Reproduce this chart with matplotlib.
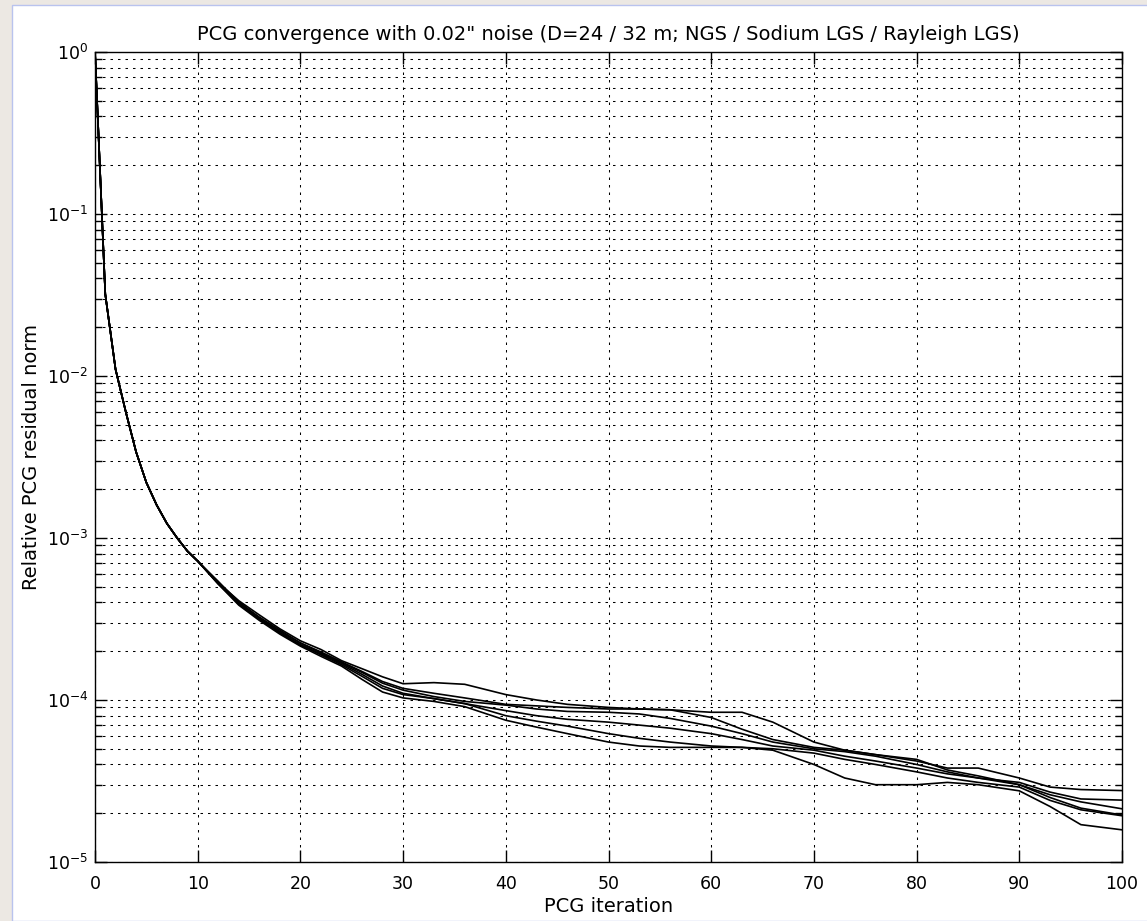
import matplotlib
matplotlib.use("Agg")
import matplotlib.pyplot as plt
from matplotlib.patches import Rectangle
from matplotlib.ticker import LogLocator, FixedLocator, LogFormatterMathtext, NullFormatter

plt.rcParams['font.family'] = ['DejaVu Sans']
plt.rcParams['mathtext.fontset'] = 'dejavusans'

# ---------------- data ----------------
title = 'PCG convergence with 0.02" noise (D=24 / 32 m; NGS / Sodium LGS / Rayleigh LGS)'
xlabel = 'PCG iteration'
ylabel = 'Relative PCG residual norm'

iterations = [0, 1, 2, 3, 4, 5, 6, 7, 8, 9, 10, 12, 14, 16, 18, 20, 22, 24, 26, 28,
              30, 33, 36, 40, 43, 46, 50, 53, 56, 60, 63, 66, 70, 73, 76, 80, 83, 86, 90, 93, 96, 100]

# shared start (iterations 0..10)
head = [1.0, 0.032, 0.011, 6.0e-3, 3.4e-3, 2.2e-3, 1.6e-3, 1.23e-3, 1.0e-3, 8.3e-4, 7.2e-4]

# tails from iteration 12 on, in units of 1e-5
case1 = [53, 41, 33.5, 27.5, 23.2, 20.5, 17.5, 15.6, 13.9,
         12.6, 12.8, 12.5, 10.8, 10.0, 9.4, 9.0, 8.8, 8.7, 8.4, 8.4, 7.3, 5.5, 4.9, 4.6, 4.2, 3.8, 3.8, 3.3, 2.9, 2.8, 2.76]
case2 = [54, 40, 32.5, 27.0, 22.5, 19.8, 17.2, 15.0, 13.0,
         11.8, 11.0, 10.3, 9.4, 9.2, 9.0, 8.8, 8.8, 8.7, 7.8, 6.6, 5.7, 5.1, 4.9, 4.6, 4.3, 3.7, 3.4, 3.0, 2.6, 2.35, 2.13]
case3 = [52, 39.5, 32.0, 26.5, 22.5, 19.5, 17.0, 14.8, 12.7,
         11.5, 10.5, 9.8, 9.3, 8.8, 8.5, 8.4, 8.2, 7.7, 6.9, 6.2, 5.5, 5.0, 4.8, 4.5, 4.0, 3.6, 3.3, 3.1, 2.7, 2.45, 2.41]
case4 = [53, 40.5, 32.0, 26.0, 22.0, 19.2, 16.8, 14.4, 12.2,
         11.0, 10.2, 9.5, 8.6, 8.0, 7.6, 7.3, 7.0, 6.7, 6.2, 5.7, 5.2, 4.9, 4.5, 4.2, 3.8, 3.5, 3.3, 3.0, 2.5, 2.15, 1.95]
case5 = [52.5, 39, 31.5, 26.0, 21.8, 19.0, 16.5, 14.0, 11.8,
         10.8, 10.2, 9.5, 8.0, 7.4, 6.9, 6.2, 5.8, 5.5, 5.2, 5.1, 5.0, 4.7, 4.3, 4.0, 3.6, 3.3, 3.1, 2.9, 2.4, 2.1, 1.93]
case6 = [52, 38.5, 31.0, 25.5, 21.5, 18.6, 16.2, 13.4, 11.2,
         10.3, 9.8, 9.1, 7.5, 6.8, 6.2, 5.5, 5.2, 5.1, 5.1, 5.1, 4.9, 4.0, 3.3, 3.0, 3.0, 3.1, 3.0, 2.75, 2.2, 1.7, 1.58]
cases = [case1, case2, case3, case4, case5, case6]

xticks = [0, 10, 20, 30, 40, 50, 60, 70, 80, 90, 100]
ydecades = [1e-5, 1e-4, 1e-3, 1e-2, 1e-1, 1e0]

# ---------------- figure ----------------
W, H = 1147, 921
fig = plt.figure(figsize=(W / 100, H / 100), dpi=100, facecolor='#ece8e3')
bg = Rectangle((12 / W, 0), 1.0, (H - 5) / H, transform=fig.transFigure,
               facecolor='white', edgecolor='#b9c3ee', linewidth=1.0, zorder=-10)
fig.patches.append(bg)

ax = fig.add_axes([95 / W, (H - 862) / H, (1122 - 95) / W, (862 - 52) / H])
ax.set_zorder(1)
ax.set_facecolor('white')

for c in cases:
    ys = head + [v * 1e-5 for v in c]
    ax.plot(iterations, ys, color='black', linewidth=1.2, zorder=3)

ax.set_yscale('log')
ax.set_xlim(0, 100)
ax.set_ylim(1e-5, 1e0)
ax.xaxis.set_major_locator(FixedLocator(xticks))
ax.yaxis.set_major_locator(FixedLocator(ydecades))
ax.yaxis.set_major_formatter(LogFormatterMathtext())
ax.yaxis.set_minor_locator(LogLocator(base=10, subs=[2, 3, 4, 5, 6, 7, 8, 9], numticks=20))
ax.yaxis.set_minor_formatter(NullFormatter())

ax.tick_params(which='both', direction='in', top=True, right=True, colors='black',
               labelsize=12.5, width=1.0)
ax.tick_params(which='major', length=8.5)
ax.tick_params(which='minor', length=5)
ax.tick_params(axis='x', pad=9)
ax.tick_params(axis='y', pad=5)

gls = (0, (2.4, 4.8))
ax.grid(True, which='major', axis='both', color='black', linestyle=gls, linewidth=0.75)
ax.grid(True, which='minor', axis='y', color='black', linestyle=gls, linewidth=0.75)
ax.set_axisbelow(True)

for s in ax.spines.values():
    s.set_linewidth(1.0)
    s.set_color('black')

ax.set_title(title, fontsize=14, pad=9)
ax.set_xlabel(xlabel, fontsize=14, labelpad=3)
ax.set_ylabel(ylabel, fontsize=14, labelpad=4)

fig.savefig('out.png', dpi=100, facecolor=fig.get_facecolor())
